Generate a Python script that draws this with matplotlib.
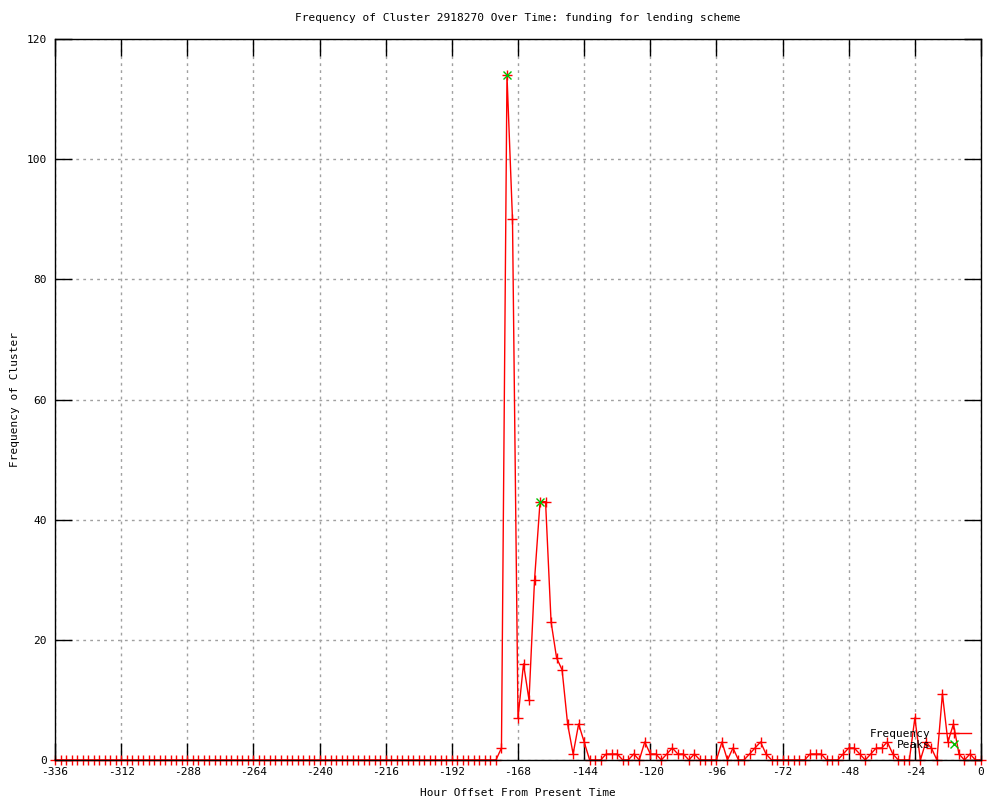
import numpy as np
import matplotlib.pyplot as plt

plt.rcParams['font.family'] = ['DejaVu Sans Mono']
plt.rcParams['axes.unicode_minus'] = False

# hour offsets, one point every 2 hours
hours = list(range(-336, 1, 2))

# frequency per 2-hour bin
freq_quiet = [0, 0, 0, 0, 0, 0, 0, 0, 0, 0, 0, 0, 0, 0, 0, 0, 0, 0, 0, 0,
              0, 0, 0, 0, 0, 0, 0, 0, 0, 0, 0, 0, 0, 0, 0, 0, 0, 0, 0, 0,
              0, 0, 0, 0, 0, 0, 0, 0, 0, 0, 0, 0, 0, 0, 0, 0, 0, 0, 0, 0,
              0, 0, 0, 0, 0, 0, 0, 0, 0, 0, 0, 0, 0, 0, 0, 0, 0, 0, 0, 0,
              0]
freq_active = [2, 114, 90, 7, 16, 10, 30, 43, 43, 23, 17, 15, 6, 1, 6, 3,
               0, 0, 0, 1, 1, 1, 0, 0, 1, 0, 3, 1, 1, 0, 1, 2, 1, 1, 0, 1,
               0, 0, 0, 0, 3, 0, 2, 0, 0, 1, 2, 3, 1, 0, 0, 0, 0, 0, 0, 0,
               1, 1, 1, 0, 0, 0, 1, 2, 2, 1, 0, 1, 2, 2, 3, 1, 0, 0, 0, 7,
               0, 3, 2, 0, 11, 3, 6, 1, 0, 1, 0, 0]
freq = freq_quiet + freq_active

peak_hours = [-172, -160]
peak_freq = [114, 43]

x_ticks = list(range(-336, 1, 24))
y_ticks = [0, 20, 40, 60, 80, 100, 120]

fig = plt.figure(figsize=(10, 8), dpi=100)
ax = fig.add_axes([0.055, 0.05, 0.926, 0.901])

ax.plot(hours, freq, color='#ff0000', lw=1, marker='+', ms=6.5, mew=1,
        label='Frequency', clip_on=False, zorder=2)
ax.plot(peak_hours, peak_freq, ls='none', color='#00c000', marker='x',
        ms=6, mew=1, label='Peaks', zorder=3)

ax.set_xlim(-336, 0)
ax.set_ylim(0, 120)
ax.set_xticks(x_ticks)
ax.set_yticks(y_ticks)
ax.grid(True, color='#a0a0a0', ls=(0, (2, 3)), lw=1)
ax.tick_params(direction='in', top=True, right=True, labelsize=8,
               color='black', width=1, length=12)
ax.tick_params(axis='x', pad=5)
ax.tick_params(axis='y', pad=6)
for s in ax.spines.values():
    s.set_linewidth(1)
    s.set_zorder(4)

ax.set_title('Frequency of Cluster 2918270 Over Time: funding for lending scheme',
             fontsize=8, pad=13)
ax.set_xlabel('Hour Offset From Present Time', fontsize=8, labelpad=8)
ax.set_ylabel('Frequency of Cluster', fontsize=8)
ax.yaxis.set_label_coords(-0.038, 0.5)

ax.legend(loc='center right', bbox_to_anchor=(0.995, 0.029), frameon=False,
          markerfirst=False, fontsize=8, handlelength=3.0, handletextpad=0.6,
          labelspacing=0.1, borderpad=0)

fig.savefig('out.png', dpi=100)
